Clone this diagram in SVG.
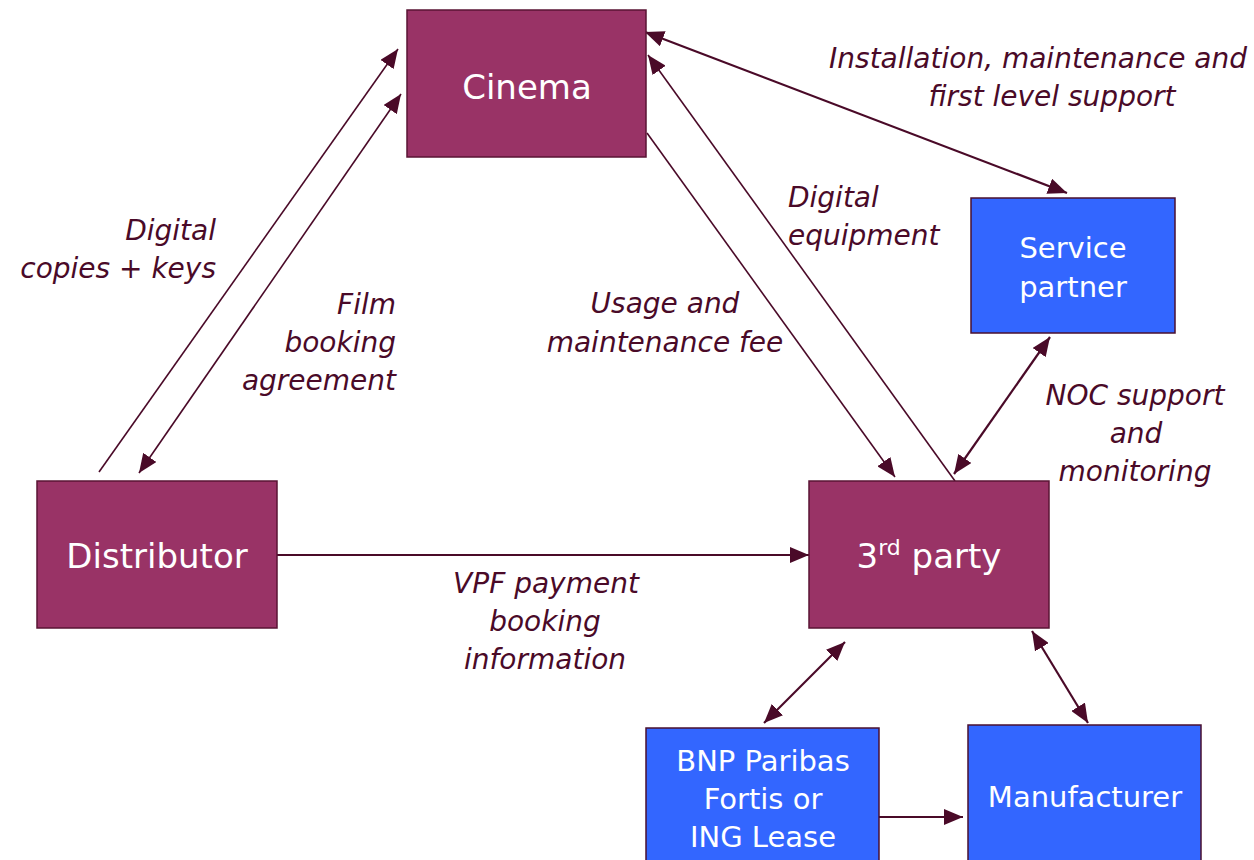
<svg xmlns="http://www.w3.org/2000/svg" width="1254" height="860" viewBox="0 0 1254 860">
  <style>
    .maroon { fill: #993366; stroke: #5a1434; stroke-width: 1.5; }
    .blue { fill: #3366ff; stroke: #4a1030; stroke-width: 1.5; }
    .node-text { font-family: "DejaVu Sans", "Liberation Sans", sans-serif; fill: #ffffff; text-anchor: middle; }
    .big { font-size: 34px; }
    .mid { font-size: 29px; }
    .label { font-family: "DejaVu Sans", "Liberation Sans", sans-serif; font-style: italic; font-size: 28px; fill: #4a0a28; }
    .conn { stroke: #4a0a28; stroke-width: 1.6; fill: none; }
    .conn2 { stroke: #4a0a28; stroke-width: 2.2; fill: none; }
  </style>
  <defs>
    <marker id="head" viewBox="0 0 10 10" refX="10" refY="5" markerUnits="userSpaceOnUse" markerWidth="19" markerHeight="16" preserveAspectRatio="none" orient="auto-start-reverse">
      <path d="M0,0 L10,5 L0,10 z" fill="#4a0a28"/>
    </marker>
  </defs>

  <rect width="1254" height="860" fill="#ffffff"/>

  <!-- connectors -->
  <g id="connectors">
    <line class="conn" x1="99" y1="472" x2="398" y2="49" marker-end="url(#head)"/>
    <line class="conn" x1="139" y1="473" x2="401" y2="94" marker-start="url(#head)" marker-end="url(#head)"/>
    <line class="conn2" x1="645" y1="32" x2="1067" y2="193" marker-start="url(#head)" marker-end="url(#head)"/>
    <line class="conn" x1="955" y1="481" x2="648" y2="55" marker-end="url(#head)"/>
    <line class="conn" x1="647" y1="133" x2="895" y2="477" marker-end="url(#head)"/>
    <line class="conn2" x1="954" y1="474" x2="1050" y2="337" marker-start="url(#head)" marker-end="url(#head)"/>
    <line class="conn2" x1="277" y1="555" x2="809" y2="555" marker-end="url(#head)"/>
    <line class="conn2" x1="845" y1="642" x2="764" y2="723" marker-start="url(#head)" marker-end="url(#head)"/>
    <line class="conn2" x1="1032" y1="631" x2="1088" y2="723" marker-start="url(#head)" marker-end="url(#head)"/>
    <line class="conn2" x1="879" y1="817" x2="963" y2="817" marker-end="url(#head)"/>
  </g>

  <!-- connector labels -->
  <g id="labels" class="label">
    <text text-anchor="end"><tspan x="216" y="240">Digital</tspan><tspan x="216" y="278">copies + keys</tspan></text>
    <text text-anchor="end"><tspan x="396" y="314">Film</tspan><tspan x="396" y="352">booking</tspan><tspan x="396" y="390">agreement</tspan></text>
    <text text-anchor="middle"><tspan x="665" y="313">Usage and</tspan><tspan x="665" y="352">maintenance fee</tspan></text>
    <text text-anchor="start"><tspan x="788" y="207">Digital</tspan><tspan x="788" y="245">equipment</tspan></text>
    <text text-anchor="middle"><tspan x="1038" y="68">Installation, maintenance and</tspan><tspan x="1052" y="106">first level support</tspan></text>
    <text text-anchor="middle"><tspan x="1135" y="405">NOC support</tspan><tspan x="1136" y="443">and</tspan><tspan x="1135" y="481">monitoring</tspan></text>
    <text text-anchor="middle"><tspan x="546" y="593">VPF payment</tspan><tspan x="545" y="631">booking</tspan><tspan x="545" y="669">information</tspan></text>
  </g>

  <!-- nodes -->
  <g id="cinema">
    <rect class="maroon" x="407" y="10" width="239" height="147"/>
    <text class="node-text big" x="527" y="99">Cinema</text>
  </g>
  <g id="distributor">
    <rect class="maroon" x="37" y="481" width="240" height="147"/>
    <text class="node-text big" x="157" y="568">Distributor</text>
  </g>
  <g id="third-party">
    <rect class="maroon" x="809" y="481" width="240" height="147"/>
    <text class="node-text big" x="929" y="568">3<tspan font-size="22" dy="-13">rd</tspan><tspan dy="13"> party</tspan></text>
  </g>
  <g id="service-partner">
    <rect class="blue" x="971" y="198" width="204" height="135"/>
    <text class="node-text mid"><tspan x="1073" y="258">Service</tspan><tspan x="1073" y="297">partner</tspan></text>
  </g>
  <g id="bnp">
    <rect class="blue" x="646" y="728" width="233" height="140"/>
    <text class="node-text mid"><tspan x="763" y="771">BNP Paribas</tspan><tspan x="763" y="809">Fortis or</tspan><tspan x="763" y="847">ING Lease</tspan></text>
  </g>
  <g id="manufacturer">
    <rect class="blue" x="968" y="725" width="233" height="143"/>
    <text class="node-text mid" x="1085" y="807">Manufacturer</text>
  </g>
</svg>
